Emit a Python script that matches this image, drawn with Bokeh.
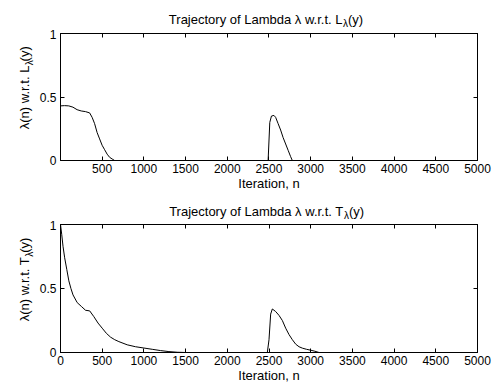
from math import pi
from bokeh.plotting import figure
from bokeh.layouts import column, row
from bokeh.models import FixedTicker, LinearAxis, Label, Range1d
from bokeh.embed import file_html
from bokeh.resources import INLINE

# ---------------- data ----------------
top_iter = [1, 50, 100, 150, 200, 250, 300, 350, 380, 410, 440, 470, 500, 530,
            560, 590, 620, 650, 2490, 2510, 2530, 2560, 2580, 2610, 2640, 2670,
            2700, 2730, 2760, 2780, 5000]
top_lambda = [0.43, 0.432, 0.43, 0.42, 0.40, 0.39, 0.385, 0.375, 0.34, 0.29,
              0.22, 0.17, 0.12, 0.085, 0.05, 0.025, 0.012, 0.0, 0.0, 0.30,
              0.35, 0.355, 0.34, 0.29, 0.24, 0.18, 0.13, 0.08, 0.03, 0.0, 0.0]

bot_iter = [0, 15, 30, 50, 75, 100, 125, 150, 200, 250, 300, 350, 400, 450,
            500, 550, 600, 650, 700, 800, 900, 1000, 1100, 1200, 1300, 1400,
            1500, 2480, 2500, 2520, 2540, 2580, 2620, 2660, 2700, 2740, 2780,
            2820, 2860, 2900, 2950, 3000, 3050, 3100, 5000]
bot_lambda = [1.0, 0.92, 0.83, 0.74, 0.65, 0.56, 0.50, 0.45, 0.39, 0.36, 0.33,
              0.325, 0.28, 0.23, 0.19, 0.15, 0.12, 0.10, 0.085, 0.06, 0.045,
              0.035, 0.025, 0.015, 0.007, 0.002, 0.0, 0.0, 0.10, 0.30, 0.34,
              0.32, 0.29, 0.25, 0.19, 0.14, 0.10, 0.065, 0.045, 0.034, 0.025,
              0.018, 0.01, 0.0, 0.0]

x_ticks_top = [500, 1000, 1500, 2000, 2500, 3000, 3500, 4000, 4500, 5000]
x_ticks_bot = [0, 500, 1000, 1500, 2000, 2500, 3000, 3500, 4000, 4500, 5000]
y_ticks = [0, 0.5, 1]
y_tick_labels = ["0", "0.5", "1"]
x_label = "Iteration, n"
title_head = "Trajectory of Lambda \u03bb w.r.t. "
ylab_head = "\u03bb(n) w.r.t. "
sub_char = "\u03bb"
tail = "(y)"
letters = ["L", "T"]

# ---------------- styling ----------------
FONT = "Liberation Sans"
TICK_FS = 12
LAB_FS = 13
TITLE_FS = 13
SUB_FS = 10
SUB_W = 5.5          # advance of the small lambda
W_TOTAL = 494
YL_W = 36            # strip holding the rotated y label
LEFT_IN = 23         # left border of the plotting figure
RIGHT = 17
TITLE_JOIN_X = 342   # where the subscript of the title starts (canvas px)
YLAB_JOIN = 89.5     # subscript position of the y label, px above frame bottom


def text_canvas(w, h):
    f = figure(width=w, height=h, output_backend="svg", toolbar_location=None,
               x_range=Range1d(0, w), y_range=Range1d(0, h), min_border=0,
               x_axis_type=None, y_axis_type=None, outline_line_color=None,
               background_fill_color="white", border_fill_color="white")
    f.grid.visible = False
    return f


def make_title(letter, h, base_y, sub_drop, join_x):
    f = text_canvas(W_TOTAL, h)
    common = dict(text_font=FONT, text_color="black",
                  text_baseline="alphabetic")
    f.add_layout(Label(x=join_x, y=base_y, text=title_head + letter,
                       text_align="right", text_font_size=f"{TITLE_FS}px",
                       **common))
    f.add_layout(Label(x=join_x + 0.5, y=base_y - sub_drop, text=sub_char,
                       text_align="left", text_font_size=f"{SUB_FS}px",
                       **common))
    f.add_layout(Label(x=join_x + SUB_W, y=base_y, text=tail,
                       text_align="left", text_font_size=f"{TITLE_FS}px",
                       **common))
    return f


def make_ylabel(letter, h, bot_b):
    f = text_canvas(YL_W, h)
    join = bot_b + YLAB_JOIN
    xl = 24
    rot = dict(text_font=FONT, text_color="black", text_baseline="alphabetic",
               angle=pi / 2)
    f.add_layout(Label(x=xl, y=join, text=ylab_head + letter,
                       text_align="right", text_font_size=f"{LAB_FS}px", **rot))
    f.add_layout(Label(x=xl + 5, y=join + 0.5, text=sub_char, text_align="left",
                       text_font_size=f"{SUB_FS}px", **rot))
    f.add_layout(Label(x=xl, y=join + SUB_W, text=tail, text_align="left",
                       text_font_size=f"{LAB_FS}px", **rot))
    return f


def make_plot(xs, ys, xstart, xticks, h, top_b, bot_b):
    p = figure(width=W_TOTAL - YL_W, height=h, output_backend="svg",
               toolbar_location=None, x_range=Range1d(xstart, 5000),
               y_range=Range1d(0, 1), min_border_left=LEFT_IN,
               min_border_right=RIGHT, min_border_top=top_b,
               min_border_bottom=bot_b, background_fill_color="white",
               border_fill_color="white", outline_line_color="black")
    p.grid.visible = False
    p.line(xs, ys, line_color="black", line_width=1)

    p.xaxis.ticker = FixedTicker(ticks=xticks)
    p.yaxis.ticker = FixedTicker(ticks=y_ticks)
    p.yaxis.major_label_overrides = {t: l for t, l in zip(y_ticks, y_tick_labels)}
    p.xaxis.axis_label = x_label
    p.xaxis.axis_label_text_font_style = "normal"
    p.xaxis.axis_label_text_font = FONT
    p.xaxis.axis_label_text_font_size = f"{LAB_FS}px"
    p.xaxis.axis_label_text_color = "black"
    p.xaxis.axis_label_standoff = 0

    for ax in [p.xaxis[0], p.yaxis[0]]:
        ax.major_tick_in = 4
        ax.major_tick_out = 0
        ax.minor_tick_in = 0
        ax.minor_tick_out = 0
        ax.axis_line_color = "black"
        ax.major_tick_line_color = "black"
        ax.major_label_text_font = FONT
        ax.major_label_text_font_size = f"{TICK_FS}px"
        ax.major_label_text_color = "black"
    p.xaxis.major_label_standoff = 3
    p.yaxis.major_label_standoff = 4

    for loc, tk in [("above", xticks), ("right", y_ticks)]:
        ax = LinearAxis(ticker=FixedTicker(ticks=tk), major_tick_in=4,
                        major_tick_out=0, minor_tick_in=0, minor_tick_out=0,
                        major_label_text_font_size="0px",
                        major_label_text_color=None, major_label_standoff=0,
                        axis_line_color="black", major_tick_line_color="black")
        p.add_layout(ax, loc)
    return p


# top panel: rows 0..193  (title 0-29, plot 29-193, frame 33-160)
t1 = make_title(letters[0], 29, 10.5, 4, TITLE_JOIN_X)
p1 = make_plot(top_iter, top_lambda, 1, x_ticks_top, 164, 4, 33)
y1 = make_ylabel(letters[0], 164, 33)

# bottom panel: rows 193..387 (title 193-220, plot 220-387, frame 224-352)
t2 = make_title(letters[1], 27, 9.5, 4, TITLE_JOIN_X + 1)
p2 = make_plot(bot_iter, bot_lambda, 0, x_ticks_bot, 167, 4, 35)
y2 = make_ylabel(letters[1], 167, 35)

layout = column(t1, row(y1, p1, spacing=0), t2, row(y2, p2, spacing=0),
                spacing=0)
open("out.html", "w").write(file_html(layout, INLINE))
